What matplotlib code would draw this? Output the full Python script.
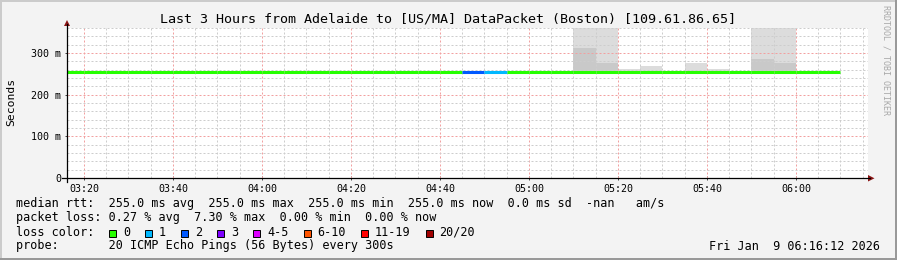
import matplotlib
matplotlib.use("Agg")
import matplotlib.pyplot as plt
from matplotlib.patches import Rectangle, Polygon
from matplotlib.lines import Line2D

# --- data ---
step_start = ["03:15", "03:20", "03:25", "03:30", "03:35", "03:40", "03:45",
              "03:50", "03:55", "04:00", "04:05", "04:10", "04:15", "04:20",
              "04:25", "04:30", "04:35", "04:40", "04:45", "04:50", "04:55",
              "05:00", "05:05", "05:10", "05:15", "05:20", "05:25", "05:30",
              "05:35", "05:40", "05:45", "05:50", "05:55", "06:00", "06:05"]
median_ms = [255.0, 255.0, 255.0, 255.0, 255.0, 255.0, 255.0,
             255.0, 255.0, 255.0, 255.0, 255.0, 255.0, 255.0,
             255.0, 255.0, 255.0, 255.0, 255.0, 255.0, 255.0,
             255.0, 255.0, 255.0, 255.0, 255.0, 255.0, 255.0,
             255.0, 255.0, 255.0, 255.0, 255.0, 255.0, 255.0]
lost_pings = [0, 0, 0, 0, 0, 0, 0,
              0, 0, 0, 0, 0, 0, 0,
              0, 0, 0, 0, 2, 1, 0,
              0, 0, 0, 0, 0, 0, 0,
              0, 0, 0, 0, 0, 0, 0]

# smoke (spread of the 20 pings): dark band near the median, light band above
smoke_step = ["05:10", "05:15", "05:20", "05:25", "05:30", "05:35", "05:40", "05:50", "05:55"]
smoke_low = [255, 255, 255, 255, 255, 255, 255, 255, 255]
smoke_dark_top = [312, 275, 255, 255, 255, 255, 255, 286, 276]
smoke_light_top = [380, 380, 262, 270, 257, 275, 262, 380, 380]

loss_labels = ["0", "1", "2", "3", "4-5", "6-10", "11-19", "20/20"]
loss_limits = [0, 1, 2, 3, 5, 10, 19, 20]
loss_colors = ["#26ff00", "#00b8ff", "#0059ff", "#7e00ff",
               "#dd00ff", "#ff5500", "#ff0000", "#a00000"]

x_ticks = ["03:20", "03:40", "04:00", "04:20", "04:40", "05:00", "05:20", "05:40", "06:00"]
y_ticks = [0, 100, 200, 300]
y_tick_labels = ["0", "100 m", "200 m", "300 m"]

title = "Last 3 Hours from Adelaide to [US/MA] DataPacket (Boston) [109.61.86.65]"
legend_rtt = "median rtt:  255.0 ms avg  255.0 ms max  255.0 ms min  255.0 ms now  0.0 ms sd  -nan   am/s"
legend_loss = "packet loss: 0.27 % avg  7.30 % max  0.00 % min  0.00 % now"
legend_probe = "probe:       20 ICMP Echo Pings (56 Bytes) every 300s"
stamp = "Fri Jan  9 06:16:12 2026"
t_start, t_end = "03:16:12", "06:16:12"


def minutes(s):
    parts = [int(p) for p in s.split(":")]
    while len(parts) < 3:
        parts.append(0)
    return parts[0] * 60 + parts[1] + parts[2] / 60.0


W, H = 897, 260
MONO = "DejaVu Sans Mono"


def fx(px):
    return px / W


def fy(py):
    return 1 - py / H


fig = plt.figure(figsize=(W / 100, H / 100), dpi=100, facecolor="#f3f3f3")
ax = fig.add_axes([fx(67), fy(178), (868 - 67) / W, (178 - 28) / H])
ax.set_facecolor("white")
for s in ax.spines.values():
    s.set_visible(False)

ax.set_xlim(minutes(t_start), minutes(t_end))
ax.set_ylim(0, 360)

# smoke
for t, lo, dk, lt in zip(smoke_step, smoke_low, smoke_dark_top, smoke_light_top):
    x0 = minutes(t)
    ax.bar(x0, lt - lo, bottom=lo, width=5, align="edge", color="#dcdcdc", lw=0, zorder=1)
    if dk > lo:
        ax.bar(x0, dk - lo, bottom=lo, width=5, align="edge", color="#c9c9c9", lw=0, zorder=1)

# dotted grid
dots = dict(lw=0.72, linestyle=(0, (2, 2)), zorder=2)
start_min = minutes(t_start)
m = 5 * (int(start_min) // 5 + 1)
while m < minutes(t_end):
    major = m % 20 == 0
    ax.axvline(m, color="#f2a0a0" if major else "#cdcdcd", **dots)
    m += 5
for v in range(20, 361, 20):
    ax.axhline(v, color="#f2a0a0" if v % 100 == 0 else "#cdcdcd", **dots)


def loss_color(n):
    for lim, c in zip(loss_limits, loss_colors):
        if n <= lim:
            return c
    return loss_colors[-1]


# median line coloured by loss
for t, med, lost in zip(step_start, median_ms, lost_pings):
    x0 = minutes(t)
    ax.hlines(med, x0, x0 + 5, colors=loss_color(lost), lw=2.2, zorder=3)

# ticks
ax.set_xticks([minutes(t) for t in x_ticks])
ax.set_xticklabels(x_ticks, family=MONO, fontsize=7.2)
ax.set_yticks(y_ticks)
ax.set_yticklabels(y_tick_labels, family=MONO, fontsize=7.2)
ax.tick_params(axis="both", which="major", length=3, width=0.7, direction="inout",
               color="#444444", pad=2.5)

# axes with arrows
fig.add_artist(Line2D([fx(67), fx(67)], [fy(182), fy(24)], color="black", lw=0.9,
                      transform=fig.transFigure))
fig.add_artist(Line2D([fx(62), fx(870)], [fy(178.3), fy(178.3)], color="black", lw=0.9,
                      transform=fig.transFigure))
fig.add_artist(Polygon([(fx(64), fy(26)), (fx(70), fy(26)), (fx(67), fy(20))], closed=True,
                       color="#8b1414", lw=0, transform=fig.transFigure))
fig.add_artist(Polygon([(fx(868), fy(175)), (fx(868), fy(181.5)), (fx(874.5), fy(178.3))],
                       closed=True, color="#8b1414", lw=0, transform=fig.transFigure))

# texts
fig.text(fx(448), fy(19), title, ha="center", va="center", family=MONO, fontsize=9.6)
fig.text(fx(11), fy(102), "Seconds", ha="center", va="center", rotation=90,
         family=MONO, fontsize=8.2)
fig.text(fx(886), fy(60), "RRDTOOL / TOBI OETIKER", ha="center", va="center",
         rotation=270, family=MONO, fontsize=6, color="#a8a8a8")

fig.text(fx(16), fy(204), legend_rtt, ha="left", va="center", family=MONO, fontsize=8.5)
fig.text(fx(16), fy(218), legend_loss, ha="left", va="center", family=MONO, fontsize=8.5)
fig.text(fx(16), fy(232), "loss color:", ha="left", va="center", family=MONO, fontsize=8.5)
fig.text(fx(16), fy(246), legend_probe, ha="left", va="center", family=MONO, fontsize=8.5)
fig.text(fx(880), fy(246), stamp, ha="right", va="center", family=MONO, fontsize=8.5)

cursor = 109
char_w = 7.1
for lab, col in zip(loss_labels, loss_colors):
    fig.add_artist(Rectangle((fx(cursor), fy(236.5)), 7 / W, 7 / H, facecolor=col,
                             edgecolor="black", lw=0.7, transform=fig.transFigure))
    fig.text(fx(cursor + 14), fy(232), lab, ha="left", va="center", family=MONO, fontsize=8.5)
    cursor = cursor + 14 + len(lab) * char_w + 15

# 3d frame of the rrd canvas
fig.add_artist(Rectangle((0, fy(2)), 1, 2 / H, color="#cbcbcb", lw=0, transform=fig.transFigure))
fig.add_artist(Rectangle((0, 0), 2 / W, 1, color="#cbcbcb", lw=0, transform=fig.transFigure))
fig.add_artist(Rectangle((0, 0), 1, 2 / H, color="#999999", lw=0, transform=fig.transFigure))
fig.add_artist(Rectangle((fx(W - 2), 0), 2 / W, 1, color="#999999", lw=0,
                         transform=fig.transFigure))

fig.savefig("out.png", dpi=100, facecolor=fig.get_facecolor())
